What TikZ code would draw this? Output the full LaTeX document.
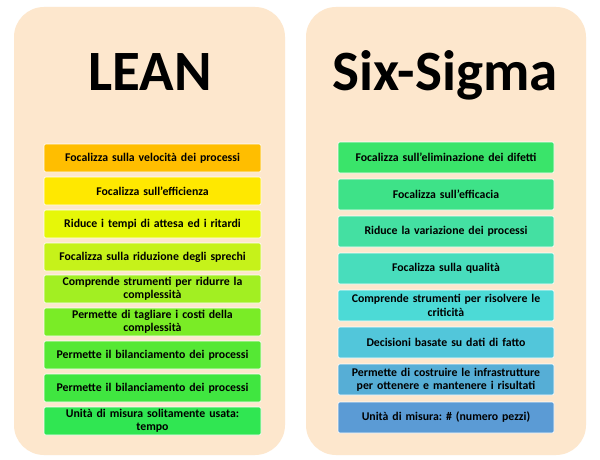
\documentclass[tikz,border=0pt]{standalone}
\usepackage{fontspec}
\setmainfont{Carlito}
\frenchspacing
\definecolor{panelbg}{HTML}{FDE7CD}
\definecolor{lA}{HTML}{FFBE00}
\definecolor{lB}{HTML}{FFE800}
\definecolor{lC}{HTML}{E6F708}
\definecolor{lD}{HTML}{C6F21A}
\definecolor{lE}{HTML}{A2EF22}
\definecolor{lF}{HTML}{7AEC26}
\definecolor{lG}{HTML}{55E834}
\definecolor{lH}{HTML}{40E640}
\definecolor{lI}{HTML}{30E652}
\definecolor{rA}{HTML}{3AE46A}
\definecolor{rB}{HTML}{3EE288}
\definecolor{rC}{HTML}{44E0A2}
\definecolor{rD}{HTML}{48DDBC}
\definecolor{rE}{HTML}{4CDAD6}
\definecolor{rF}{HTML}{52C6DA}
\definecolor{rG}{HTML}{56AED6}
\definecolor{rH}{HTML}{5B9BD5}
\tikzset{
  panel/.style={fill=panelbg, draw=none, rounded corners=30pt},
  title/.style={font=\fontsize{57}{60}\selectfont\bfseries, anchor=base, inner sep=0pt},
  lbox/.style={draw=white, line width=0.6pt, rounded corners=2pt, minimum width=217pt, minimum height=28pt, inner sep=0pt, align=center, text width=214pt, font=\fontsize{11.8}{13.4}\selectfont\bfseries},
  rbox/.style={lbox, minimum width=216pt, minimum height=31pt, text width=213pt},
}
\begin{document}
\begin{tikzpicture}[x=1pt,y=-1pt]
\useasboundingbox (0,0) rectangle (600,460);
\fill[white] (0,0) rectangle (600,460);
\path[panel] (14,7) rectangle (285,455);
\path[panel] (306,7) rectangle (586,455);
\node[title] (tlean) at (150,90) {LEAN};
\node[title] (tsix) at (445,90) {Six-Sigma};
\node[lbox, fill=lA] (l1) at (152.5,158) {Focalizza sulla velocità dei processi};
\node[lbox, fill=lB] (l2) at (152.5,191) {Focalizza sull’efficienza};
\node[lbox, fill=lC] (l3) at (152.5,224) {Riduce i tempi di attesa ed i ritardi};
\node[lbox, fill=lD] (l4) at (152.5,257) {Focalizza sulla riduzione degli sprechi};
\node[lbox, fill=lE] (l5) at (152.5,289) {Comprende strumenti per ridurre la\\complessità};
\node[lbox, fill=lF] (l6) at (152.5,322) {Permette di tagliare i costi della\\complessità};
\node[lbox, fill=lG] (l7) at (152.5,355) {Permette il bilanciamento dei processi};
\node[lbox, fill=lH] (l8) at (152.5,388) {Permette il bilanciamento dei processi};
\node[lbox, fill=lI] (l9) at (152.5,421) {Unità di misura solitamente usata:\\tempo};
\node[rbox, fill=rA] (r1) at (446,157.5) {Focalizza sull’eliminazione dei difetti};
\node[rbox, fill=rB] (r2) at (446,194.5) {Focalizza sull’efficacia};
\node[rbox, fill=rC] (r3) at (446,231.5) {Riduce la variazione dei processi};
\node[rbox, fill=rD] (r4) at (446,268.5) {Focalizza sulla qualità};
\node[rbox, fill=rE] (r5) at (446,305.5) {Comprende strumenti per risolvere le\\criticità};
\node[rbox, fill=rF] (r6) at (446,342.5) {Decisioni basate su dati di fatto};
\node[rbox, fill=rG] (r7) at (446,379.5) {Permette di costruire le infrastrutture\\per ottenere e mantenere i risultati};
\node[rbox, fill=rH] (r8) at (446,417.5) {Unità di misura: \# (numero pezzi)};
\end{tikzpicture}
\end{document}
